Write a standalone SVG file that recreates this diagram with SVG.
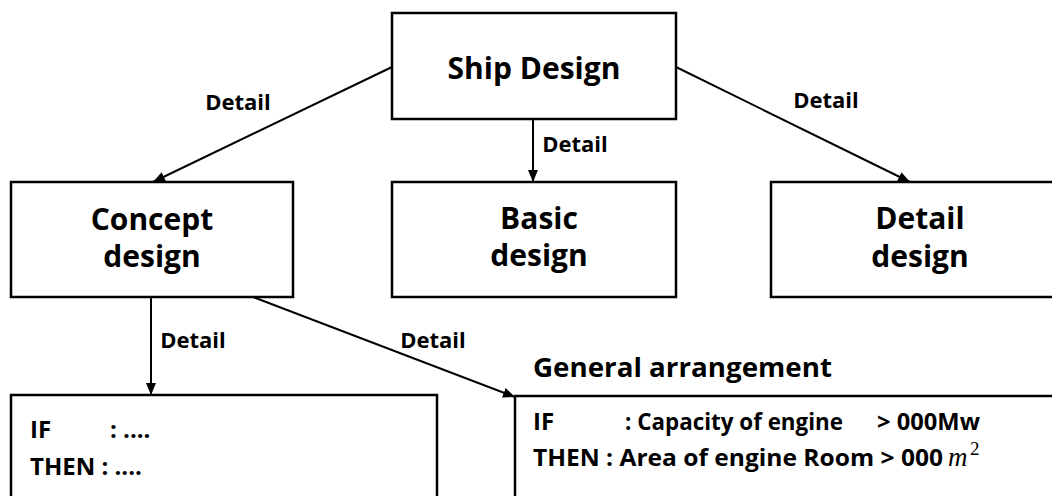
<svg xmlns="http://www.w3.org/2000/svg" width="1052" height="496" viewBox="0 0 1052 496">
<defs>
<style>
.box{fill:#fff;stroke:#000;stroke-width:2.5}
.t{font-family:"Open Sans","Noto Sans",sans-serif;font-weight:700;fill:#000}
.big{font-size:30px}
.lbl{font-size:22px}
.rule{font-family:"Open Sans","Noto Sans",sans-serif;font-weight:700;font-size:24px;fill:#000}
.ln{stroke:#000;stroke-width:2;fill:none}
.math{font-family:"Liberation Serif",serif;fill:#000}
</style>
<marker id="ah" viewBox="0 0 12 10" refX="12" refY="5" markerWidth="12" markerHeight="10" markerUnits="userSpaceOnUse" orient="auto">
<path d="M0,0 L12,5 L0,10 z" fill="#000"/>
</marker>
</defs>
<rect width="1052" height="496" fill="#fff"/>
<g id="connectors">
<line class="ln" x1="392" y1="67" x2="153" y2="182" marker-end="url(#ah)"/>
<line class="ln" x1="533" y1="119" x2="533" y2="182" marker-end="url(#ah)"/>
<line class="ln" x1="676" y1="67" x2="910" y2="182" marker-end="url(#ah)"/>
<line class="ln" x1="151" y1="297" x2="151" y2="395" marker-end="url(#ah)"/>
<line class="ln" x1="253" y1="297" x2="515" y2="397" marker-end="url(#ah)"/>
<text class="t lbl" x="238" y="110" text-anchor="middle">Detail</text>
<text class="t lbl" x="575" y="152" text-anchor="middle">Detail</text>
<text class="t lbl" x="826" y="108" text-anchor="middle">Detail</text>
<text class="t lbl" x="193" y="348" text-anchor="middle">Detail</text>
<text class="t lbl" x="433" y="348" text-anchor="middle">Detail</text>
</g>
<g id="ship-design">
<rect class="box" x="392" y="13" width="284" height="106"/>
<text class="t big" x="534" y="79" text-anchor="middle">Ship Design</text>
</g>
<g id="concept-design">
<rect class="box" x="11" y="182" width="282" height="115"/>
<text class="t big" text-anchor="middle"><tspan x="152" y="230">Concept</tspan><tspan x="152" y="267">design</tspan></text>
</g>
<g id="basic-design">
<rect class="box" x="392" y="182" width="284" height="115"/>
<text class="t big" text-anchor="middle"><tspan x="539" y="229">Basic</tspan><tspan x="539" y="266">design</tspan></text>
</g>
<g id="detail-design">
<rect class="box" x="771" y="182" width="300" height="115"/>
<text class="t big" text-anchor="middle"><tspan x="920" y="229">Detail</tspan><tspan x="920" y="267">design</tspan></text>
</g>
<g id="rule-left">
<rect class="box" x="11" y="395" width="426" height="120"/>
<text class="rule" x="30" y="438">IF</text>
<text class="rule" x="110" y="438">: ....</text>
<text class="rule" x="30" y="475">THEN : ....</text>
</g>
<g id="general-arrangement">
<text class="t" style="font-size:27px" x="533" y="377" textLength="299" lengthAdjust="spacingAndGlyphs">General arrangement</text>
<rect class="box" x="515" y="396" width="560" height="120"/>
<text class="rule" x="533" y="430">IF</text>
<text class="rule" x="625" y="430" textLength="218" lengthAdjust="spacingAndGlyphs">: Capacity of engine</text>
<text class="rule" x="877" y="430" textLength="103" lengthAdjust="spacingAndGlyphs">&gt; 000Mw</text>
<text class="rule" x="533" y="466" textLength="410" lengthAdjust="spacingAndGlyphs">THEN : Area of engine Room &gt; 000</text>
<text class="math" x="948" y="466" style="font-style:italic;font-size:27px">m</text>
<text class="math" x="970" y="455" style="font-size:19px">2</text>
</g>
</svg>
